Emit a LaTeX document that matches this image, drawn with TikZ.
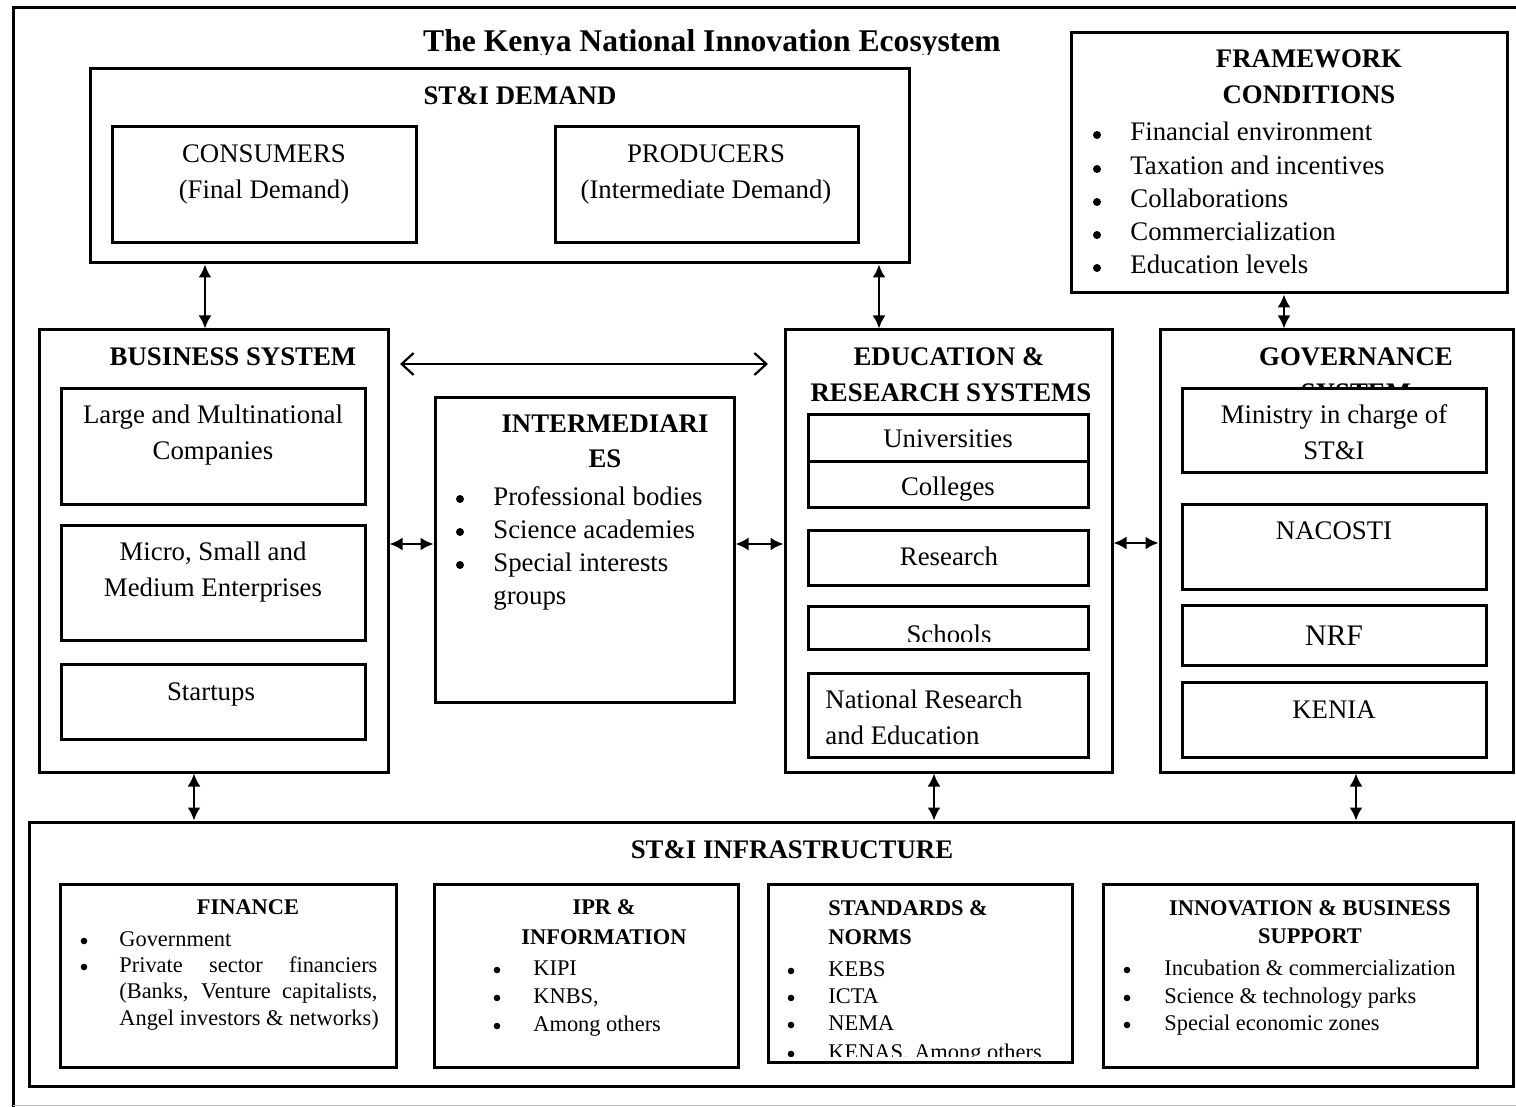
\documentclass[tikz,border=0pt]{standalone}
\usepackage{fontspec}
\setmainfont{Liberation Serif}
\usepackage{tikz}
\usetikzlibrary{positioning}
\usetikzlibrary{arrows.meta,fit}
\tikzstyle{sysbox} = [draw, line width=1.5pt, fill=white, inner sep=0pt]
\tikzstyle{biarrow} = [draw, {Latex[length=6.5pt,width=6.5pt]}-{Latex[length=6.5pt,width=6.5pt]}, line width=1.1pt]
\tikzstyle{openarrow} = [draw, {Straight Barb[length=6pt,width=11pt]}-{Straight Barb[length=6pt,width=11pt]}, line width=1.1pt]
\tikzstyle{maintitle} = [font=\fontsize{15.8}{19}\selectfont\bfseries, anchor=base, inner sep=0pt]
\tikzstyle{head} = [font=\fontsize{13.4}{16}\selectfont\bfseries, anchor=base, inner sep=0pt]
\tikzstyle{txt} = [font=\fontsize{13.4}{16}\selectfont, anchor=base, inner sep=0pt]
\tikzstyle{item} = [txt, anchor=base west]
\tikzstyle{smallhead} = [font=\fontsize{11.2}{13}\selectfont\bfseries, anchor=base, inner sep=0pt]
\tikzstyle{smalltxt} = [font=\fontsize{11.2}{13}\selectfont, anchor=base, inner sep=0pt]
\tikzstyle{smallitem} = [smalltxt, anchor=base west]
\tikzstyle{bulletdot} = [circle, fill=black, inner sep=0pt, minimum size=4pt]
\tikzstyle{smalldot} = [circle, fill=black, inner sep=0pt, minimum size=3.3pt]
\newcommand\sysnode[5]{\node[sysbox, fit={(#2,#3) (#4,#5)}] (#1) {};}

\begin{document}
\begin{tikzpicture}[x=0.5pt, y=-0.5pt]
\clip (0,0) rectangle (1516,1107);
%% outer frame
\draw[line width=1.5pt] (1530,8) -| (13,1115);
\draw[gray!50] (13,1105) -- (1530,1105);
\begin{scope}
\clip (0,0) rectangle (1516,55);
\node[maintitle] (title) at (712,52) {The Kenya National Innovation Ecosystem};
\end{scope}

%% ST&I demand
\sysnode{demand}{90}{69}{909}{263}
\node[head] (demand-t) at (520,105) {ST\&I DEMAND};
\sysnode{cons}{112}{127}{416}{243}
\node[txt] (cons-t1) at (264,163) {CONSUMERS};
\node[txt] (cons-t2) at (264,199) {(Final Demand)};
\sysnode{prod}{555}{127}{858}{243}
\node[txt] (prod-t1) at (706,163) {PRODUCERS};
\node[txt] (prod-t2) at (706,199) {(Intermediate Demand)};

%% framework conditions
\sysnode{frame}{1071}{33}{1507}{293}
\node[head] (frame-t1) at (1309,68) {FRAMEWORK};
\node[head] (frame-t2) at (1309,104) {CONDITIONS};
\foreach \y/\t [count=\i] in {141/Financial environment, 175/Taxation and incentives,
    208/Collaborations, 241/Commercialization, 274/Education levels}{
  \node[bulletdot] (frame-b\i) at (1097,\y-6) {};
  \node[item] (frame-i\i) at (1130,\y) {\t};
}

%% business system
\sysnode{bus}{39}{330}{388}{772}
\node[head] (bus-t) at (233,365) {BUSINESS SYSTEM};
\sysnode{large}{61}{388}{365}{504}
\node[txt] (large-t1) at (213,423) {Large and Multinational};
\node[txt] (large-t2) at (213,459) {Companies};
\sysnode{msme}{61}{525}{365}{640}
\node[txt] (msme-t1) at (213,560) {Micro, Small and};
\node[txt] (msme-t2) at (213,596) {Medium Enterprises};
\sysnode{start}{61}{664}{365}{739}
\node[txt] (start-t) at (211,700) {Startups};

%% intermediaries
\sysnode{inter}{435}{397}{734}{702}
\node[head] (inter-t1) at (605,432) {INTERMEDIARI};
\node[head] (inter-t2) at (605,467) {ES};
\foreach \y/\t [count=\i] in {505/Professional bodies, 538/Science academies, 571/Special interests}{
  \node[bulletdot] (inter-b\i) at (460,\y-6) {};
  \node[item] (inter-i\i) at (493,\y) {\t};
}
\node[item] (inter-i4) at (493,604) {groups};

%% education and research
\sysnode{edu}{785}{330}{1112}{772}
\node[head] (edu-t1) at (949,365) {EDUCATION \&};
\node[head] (edu-t2) at (951,401) {RESEARCH SYSTEMS};
\sysnode{univ}{808}{414}{1088}{461}
\node[txt] (univ-t) at (948,447) {Universities};
\sysnode{coll}{808}{461}{1088}{507}
\node[txt] (coll-t) at (948,495) {Colleges};
\sysnode{res}{808}{530}{1088}{585}
\node[txt] (res-t) at (949,565) {Research};
\sysnode{school}{808}{606}{1088}{649}
\begin{scope}
\clip (808,606) rectangle (1088,641);
\node[txt] (school-t) at (949,643) {Schools};
\end{scope}
\sysnode{nre}{808}{673}{1088}{757}
\node[item] (nre-t1) at (825,708) {National Research};
\node[item] (nre-t2) at (825,744) {and Education};

%% governance
\sysnode{gov}{1160}{330}{1513}{772}
\node[head] (gov-t1) at (1356,365) {GOVERNANCE};
\node[head] (gov-t2) at (1356,401) {SYSTEM};
\sysnode{min}{1182}{388}{1486}{472}
\node[txt] (min-t1) at (1334,423) {Ministry in charge of};
\node[txt] (min-t2) at (1334,459) {ST\&I};
\sysnode{nacosti}{1182}{504}{1486}{589}
\node[txt] (nacosti-t) at (1334,539) {NACOSTI};
\sysnode{nrf}{1182}{605}{1486}{665}
\node[txt, font=\fontsize{14.9}{18}\selectfont] (nrf-t) at (1334,645) {NRF};
\sysnode{kenia}{1182}{682}{1486}{757}
\node[txt] (kenia-t) at (1334,718) {KENIA};

%% ST&I infrastructure
\sysnode{infra}{29}{822}{1513}{1086}
\node[head] (infra-t) at (792,858) {ST\&I INFRASTRUCTURE};

\sysnode{fin}{60}{884}{396}{1067}
\node[smallhead] (fin-t) at (248,914) {FINANCE};
\node[smalldot] (fin-b1) at (84,941) {};
\node[smalldot] (fin-b2) at (84,967) {};
\node[smallitem] (fin-i1) at (119,946) {Government};
\node[smallitem] (fin-i2) at (119,972) {\makebox[129pt][s]{Private sector financiers}};
\node[smallitem] (fin-i3) at (119,998) {\makebox[129pt][s]{(Banks, Venture capitalists,}};
\node[smallitem] (fin-i4) at (119,1025) {Angel investors \& networks)};

\sysnode{ipr}{434}{884}{738}{1067}
\node[smallhead] (ipr-t1) at (604,914) {IPR \&};
\node[smallhead] (ipr-t2) at (604,944) {INFORMATION};
\foreach \y/\t [count=\i] in {975/KIPI, 1003/{KNBS,}, 1031/Among others}{
  \node[smalldot] (ipr-b\i) at (497,\y-5) {};
  \node[smallitem] (ipr-i\i) at (533,\y) {\t};
}

\sysnode{std}{768}{884}{1072}{1062}
\node[smallhead, anchor=base west] (std-t1) at (828,915) {STANDARDS \&};
\node[smallhead, anchor=base west] (std-t2) at (828,944) {NORMS};
\begin{scope}
\clip (768,884) rectangle (1072,1056);
\foreach \y/\t [count=\i] in {976/KEBS, 1003/ICTA, 1030/NEMA, 1059/{KENAS, Among others}}{
  \node[smalldot] (std-b\i) at (791,\y-5) {};
  \node[smallitem] (std-i\i) at (828,\y) {\t};
}
\end{scope}

\sysnode{inno}{1103}{884}{1477}{1067}
\node[smallhead] (inno-t1) at (1310,915) {INNOVATION \& BUSINESS};
\node[smallhead] (inno-t2) at (1310,943) {SUPPORT};
\foreach \y/\t [count=\i] in {975/Incubation \& commercialization, 1003/Science \& technology parks,
    1030/Special economic zones}{
  \node[smalldot] (inno-b\i) at (1127,\y-5) {};
  \node[smallitem] (inno-i\i) at (1164,\y) {\t};
}

%% links
\draw[biarrow] ([xshift=-4.25pt]bus.north) -- ([xshift=-4.25pt]bus.north |- demand.south);
\draw[biarrow] ([xshift=-34.75pt]edu.north) -- ([xshift=-34.75pt]edu.north |- demand.south);
\draw[biarrow] ([xshift=-2.5pt]frame.south) -- ([xshift=-2.5pt]frame.south |- gov.north);
\coordinate (busR) at (400,364);
\coordinate (eduL) at (768,364);
\draw[openarrow] (busR) -- (eduL);
\draw[biarrow] ([yshift=2.75pt]inter.west) -- ([yshift=2.75pt]inter.west -| bus.east);
\draw[biarrow] ([yshift=2.75pt]inter.east) -- ([yshift=2.75pt]inter.east -| edu.west);
\draw[biarrow] ([yshift=4pt]edu.east) -- ([yshift=4pt]edu.east -| gov.west);
\draw[biarrow] ([xshift=-9.75pt]bus.south) -- ([xshift=-9.75pt]bus.south |- infra.north);
\draw[biarrow] ([xshift=-7.25pt]edu.south) -- ([xshift=-7.25pt]edu.south |- infra.north);
\draw[biarrow] ([xshift=9.75pt]gov.south) -- ([xshift=9.75pt]gov.south |- infra.north);
\end{tikzpicture}
\end{document}
